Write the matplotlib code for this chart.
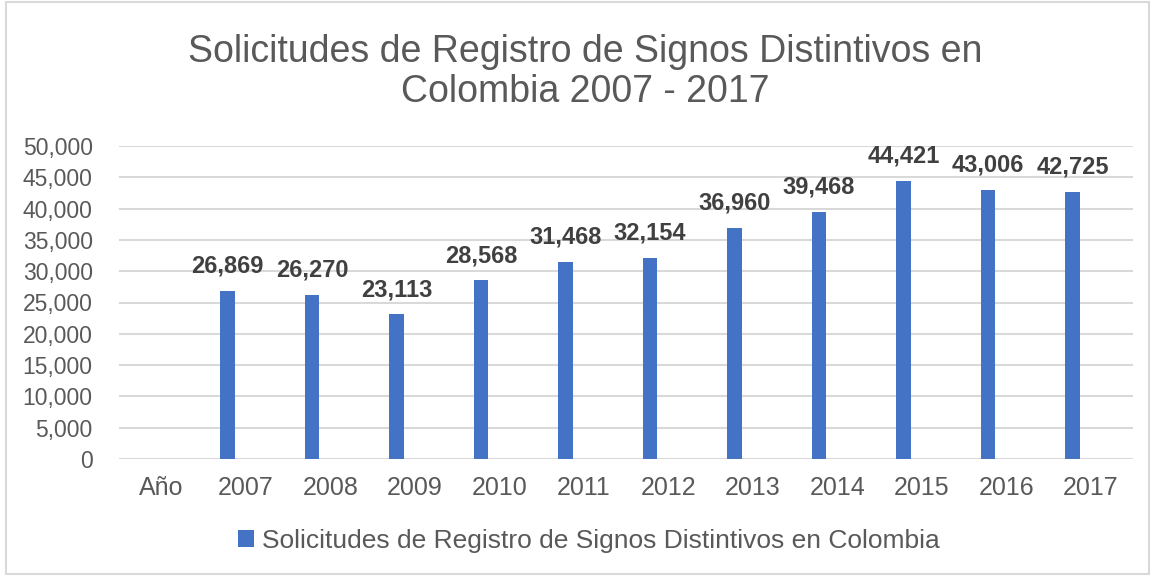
import matplotlib
matplotlib.use("Agg")
import matplotlib.pyplot as plt
from matplotlib.patches import Patch, Rectangle
from matplotlib.ticker import FuncFormatter
import numpy as np

categories = ["Año", "2007", "2008", "2009", "2010", "2011", "2012",
              "2013", "2014", "2015", "2016", "2017"]
values = [np.nan, 26869, 26270, 23113, 28568, 31468, 32154,
          36960, 39468, 44421, 43006, 42725]
series_name = "Solicitudes de Registro de Signos Distintivos en Colombia"
title = "Solicitudes de Registro de Signos Distintivos en\nColombia 2007 - 2017"

BAR = "#4472C4"
TXT = "#595959"
GRID = "#D9D9D9"

plt.rcParams['font.family'] = ['Liberation Sans', 'DejaVu Sans']

fig = plt.figure(figsize=(11.55, 5.76), dpi=100)
ax = fig.add_axes([119/1155, 1 - 459/576, (1133 - 119)/1155, (459 - 146)/576])

x = np.arange(len(categories))
vals = np.array(values, dtype=float)
bars = ax.bar(x - 0.215, vals, width=0.175, color=BAR, zorder=3)

for xi, v in zip(x, vals):
    if np.isnan(v):
        continue
    ax.annotate(f"{int(v):,}", (xi - 0.215, v), xytext=(0, 13),
                textcoords="offset points", ha="center", va="baseline",
                fontsize=17, fontweight="bold", color="#404040")

ax.set_xlim(-0.5, len(categories) - 0.5)
ax.set_ylim(0, 50000)
ax.set_yticks(np.arange(0, 50001, 5000))
ax.yaxis.set_major_formatter(FuncFormatter(lambda v, p: f"{int(v):,}"))
ax.set_xticks(x)
ax.set_xticklabels(categories)
ax.tick_params(axis='y', length=0, pad=19, labelsize=16.5, labelcolor=TXT)
ax.tick_params(axis='x', length=0, pad=12, labelsize=18, labelcolor=TXT)
ax.grid(axis='y', color=GRID, linewidth=1.5, zorder=0)
ax.set_axisbelow(True)
for s in ax.spines.values():
    s.set_visible(False)

fig.text(585/1155, 1 - 72/576, title, ha="center", va="center",
         fontsize=27, color=TXT, linespacing=1.17)

leg = fig.legend(handles=[Patch(facecolor=BAR, label=series_name)],
                 loc="center", bbox_to_anchor=(589/1155, 1 - 541/576),
                 frameon=False, fontsize=19, handlelength=0.6, handleheight=0.6,
                 handletextpad=0.3, labelcolor=TXT)

fig.patches.append(Rectangle((6/1155, 2/576), 1 - 12/1155, 1 - 4/576,
                             transform=fig.transFigure, fill=False,
                             edgecolor="#D9D9D9", linewidth=1.5))

fig.savefig("out.png", dpi=100, facecolor="white")
